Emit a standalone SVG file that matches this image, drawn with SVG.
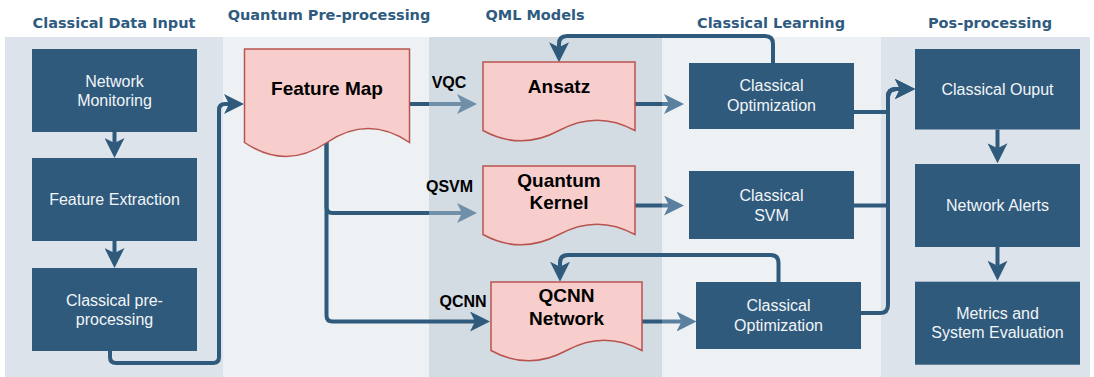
<svg xmlns="http://www.w3.org/2000/svg" width="1094" height="377" viewBox="0 0 1094 377">
<style>
.hdr{font-family:"DejaVu Sans",Verdana,sans-serif;font-weight:bold;font-size:14.5px;fill:#2f5b80;text-anchor:middle}
.box{fill:#2f5a7c}
.bt{font-family:"Liberation Sans",Arial,sans-serif;font-size:16px;fill:#f2f5f8;text-anchor:middle}
.doc{fill:#f8cecc;stroke:#b85450;stroke-width:1.5}
.dt{font-family:"Liberation Sans",Arial,sans-serif;font-weight:bold;font-size:19px;fill:#000;text-anchor:middle}
.lbl{font-family:"Liberation Sans",Arial,sans-serif;font-weight:bold;font-size:16px;fill:#000;text-anchor:middle}
.c{fill:none;stroke:#2f5a7c;stroke-width:4;stroke-linejoin:round}
</style>
<defs>
<marker id="ad" markerUnits="userSpaceOnUse" markerWidth="20" markerHeight="20" viewBox="0 0 20 20" refX="5" refY="10" orient="auto"><path d="M0,0 L20,10 L0,20 L5,10 Z" fill="#2f5a7c"/></marker>
<marker id="a3" markerUnits="userSpaceOnUse" markerWidth="20" markerHeight="20" viewBox="0 0 20 20" refX="5" refY="10" orient="auto"><path d="M0,0 L20,10 L0,20 L5,10 Z" fill="#7090aa"/></marker>
<marker id="a4" markerUnits="userSpaceOnUse" markerWidth="20" markerHeight="20" viewBox="0 0 20 20" refX="5" refY="10" orient="auto"><path d="M0,0 L20,10 L0,20 L5,10 Z" fill="#5a7f9f"/></marker>
<linearGradient id="g3" gradientUnits="userSpaceOnUse" x1="0" y1="0" x2="1094" y2="0">
<stop offset="0" stop-color="#2f5a7c"/><stop offset="0.39214" stop-color="#2f5a7c"/><stop offset="0.39214" stop-color="#7090aa"/><stop offset="1" stop-color="#7090aa"/>
</linearGradient>
<linearGradient id="g4" gradientUnits="userSpaceOnUse" x1="0" y1="0" x2="1094" y2="0">
<stop offset="0" stop-color="#2f5a7c"/><stop offset="0.60512" stop-color="#2f5a7c"/><stop offset="0.60512" stop-color="#5a7f9f"/><stop offset="1" stop-color="#5a7f9f"/>
</linearGradient>
</defs>
<rect width="1094" height="377" fill="#ffffff"/>
<g id="lanes">
<rect x="5" y="37" width="218" height="340" fill="#dce3ea"/>
<rect x="223" y="37" width="206" height="340" fill="#edf1f4"/>
<rect x="429" y="37" width="233" height="340" fill="#d3dbe3"/>
<rect x="662" y="37" width="219" height="340" fill="#edf1f4"/>
<rect x="881" y="37" width="209" height="340" fill="#dce3ea"/>
<text class="hdr" x="114" y="28">Classical Data Input</text>
<text class="hdr" x="329" y="19.5">Quantum Pre-processing</text>
<text class="hdr" x="535" y="19.5">QML Models</text>
<text class="hdr" x="771" y="28">Classical Learning</text>
<text class="hdr" x="990" y="28">Pos-processing</text>
</g>
<g id="connectors">
<path class="c" d="M114.5,132 V143" marker-end="url(#ad)"/>
<path class="c" d="M114.5,241 V253" marker-end="url(#ad)"/>
<path class="c" d="M110,351 V357 Q110,363 116,363 H213 Q219,363 219,357 V110 Q219,104 225,104 H229" marker-end="url(#ad)"/>
<path class="c" d="M409.5,104 H462" style="stroke:url(#g3)" marker-end="url(#a3)"/>
<path class="c" d="M326.5,141 V207 Q326.5,213 332.5,213 H462" style="stroke:url(#g3)" marker-end="url(#a3)"/>
<path class="c" d="M326.5,141 V315.5 Q326.5,321.5 332.5,321.5 H475" marker-end="url(#ad)"/>
<path class="c" d="M635,104 H669" style="stroke:url(#g4)" marker-end="url(#a4)"/>
<path class="c" d="M635,205.5 H669" style="stroke:url(#g4)" marker-end="url(#a4)"/>
<path class="c" d="M642,321.5 H681.5" style="stroke:url(#g4)" marker-end="url(#a4)"/>
<path class="c" d="M773,63 V44 Q773,36 765,36 H567 Q559,36 559,44 V47.3" marker-end="url(#ad)"/>
<path class="c" d="M778.5,282 V263 Q778.5,255 770.5,255 H568 Q560,255 560,263 V266.7" marker-end="url(#ad)"/>
<path class="c" d="M854,112 H888 V97 Q888,89 896,89 H900" marker-end="url(#ad)"/>
<path class="c" d="M854,205.5 H888 V97 Q888,89 896,89 H900" marker-end="url(#ad)"/>
<path class="c" d="M861,313 H880 Q888,313 888,305 V97 Q888,89 896,89 H900" marker-end="url(#ad)"/>
<path class="c" d="M997.5,129.5 V148.3" marker-end="url(#ad)"/>
<path class="c" d="M997.5,246.7 V265.7" marker-end="url(#ad)"/>
</g>
<g id="labels">
<text class="lbl" x="449" y="88">VQC</text>
<text class="lbl" x="449.5" y="191.7">QSVM</text>
<text class="lbl" x="463" y="307.3">QCNN</text>
</g>
<g id="network-monitoring"><rect class="box" x="32" y="49" width="165" height="83"/><text class="bt" x="114.5" y="86.5">Network</text><text class="bt" x="114.5" y="106">Monitoring</text></g>
<g id="feature-extraction"><rect class="box" x="32" y="158" width="165" height="83"/><text class="bt" x="114.5" y="205.2">Feature Extraction</text></g>
<g id="classical-preprocessing"><rect class="box" x="32" y="268" width="165" height="83"/><text class="bt" x="114.5" y="305.5">Classical pre-</text><text class="bt" x="114.5" y="325">processing</text></g>
<g id="feature-map"><path class="doc" d="M244.5,49 H409.5 V142.5 Q368.25,114.6 327,142.5 Q285.75,170.4 244.5,142.5 Z"/><text class="dt" x="327" y="95">Feature Map</text></g>
<g id="ansatz"><path class="doc" d="M483,62 H635 V130.5 Q597,109.8 559,130.5 Q521,151.2 483,130.5 Z"/><text class="dt" x="559" y="93.3">Ansatz</text></g>
<g id="quantum-kernel"><path class="doc" d="M483,166 H635 V234.5 Q597,213.8 559,234.5 Q521,255.2 483,234.5 Z"/><text class="dt" x="559" y="186.7">Quantum</text><text class="dt" x="559" y="209.3">Kernel</text></g>
<g id="qcnn-network"><path class="doc" d="M491,282 H642 V350.5 Q604.25,329.8 566.5,350.5 Q528.75,371.2 491,350.5 Z"/><text class="dt" x="566.5" y="301.7">QCNN</text><text class="dt" x="566.5" y="325">Network</text></g>
<g id="classical-optimization-1"><rect class="box" x="689" y="63" width="165" height="66"/><text class="bt" x="771.5" y="91">Classical</text><text class="bt" x="771.5" y="111">Optimization</text></g>
<g id="classical-svm"><rect class="box" x="689" y="171" width="165" height="68"/><text class="bt" x="771.5" y="201">Classical</text><text class="bt" x="771.5" y="220.5">SVM</text></g>
<g id="classical-optimization-2"><rect class="box" x="696" y="282" width="165" height="67"/><text class="bt" x="778.5" y="311">Classical</text><text class="bt" x="778.5" y="331">Optimization</text></g>
<g id="classical-output"><rect class="box" x="915" y="49" width="165" height="80.5"/><text class="bt" x="997.5" y="94.5">Classical Ouput</text></g>
<g id="network-alerts"><rect class="box" x="915" y="164" width="165" height="83"/><text class="bt" x="997.5" y="211">Network Alerts</text></g>
<g id="metrics"><rect class="box" x="915" y="281.7" width="165" height="83"/><text class="bt" x="997.5" y="318.5">Metrics and</text><text class="bt" x="997.5" y="338.2">System Evaluation</text></g>
</svg>
